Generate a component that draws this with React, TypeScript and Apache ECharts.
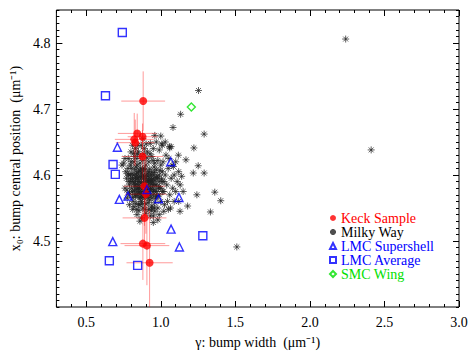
import React, { useEffect, useRef } from "react";
import * as echarts from "echarts";

// Keck Sample: [gamma, x0, xErr, yErr]
const keckSample: number[][] = [
  [0.882, 4.712, 0.147, 0.045],
  [0.842, 4.663, 0.13, 0.03],
  [0.822, 4.654, 0.13, 0.04],
  [0.829, 4.649, 0.13, 0.035],
  [0.878, 4.658, 0.1, 0.02],
  [0.877, 4.628, 0.14, 0.04],
  [0.89, 4.583, 0.14, 0.06],
  [0.9, 4.571, 0.14, 0.06],
  [0.891, 4.535, 0.147, 0.04],
  [0.88, 4.496, 0.15, 0.055],
  [0.907, 4.493, 0.15, 0.06],
  [0.925, 4.467, 0.155, 0.08],
];

const milkyWay: number[][] = [
  // outliers
  [2.24, 4.806], [2.411, 4.638], [1.51, 4.491], [1.253, 4.728], [1.133, 4.692],
  [1.082, 4.672], [1.291, 4.662], [1.222, 4.641], [1.06, 4.641], [1.251, 4.614],
  [1.291, 4.603], [1.218, 4.603], [1.169, 4.623], [1.242, 4.57], [1.362, 4.574],
  [1.402, 4.561], [1.18, 4.553], [1.333, 4.544], [1.129, 4.545], [0.951, 4.538],
  [1.051, 4.548],
  // ring
  [0.751, 4.618], [0.818, 4.633], [0.785, 4.6], [0.773, 4.577], [0.851, 4.555], [0.94, 4.55],
  [1.0, 4.659], [1.007, 4.647], [1.058, 4.643], [0.902, 4.647], [0.847, 4.645],
  [1.069, 4.643], [1.118, 4.63], [0.74, 4.615], [1.085, 4.613],
  // core
  [0.8, 4.59], [0.81, 4.575], [0.82, 4.6], [0.83, 4.585], [0.84, 4.57], [0.85, 4.605],
  [0.86, 4.59], [0.87, 4.578], [0.88, 4.6], [0.89, 4.565], [0.9, 4.595], [0.91, 4.58],
  [0.92, 4.605], [0.93, 4.57], [0.94, 4.59], [0.95, 4.6], [0.96, 4.575], [0.97, 4.585],
  [0.98, 4.595], [0.99, 4.57],
  [0.805, 4.61], [0.815, 4.56], [0.825, 4.583], [0.835, 4.612], [0.845, 4.595], [0.855, 4.565],
  [0.865, 4.61], [0.875, 4.57], [0.885, 4.588], [0.895, 4.608], [0.905, 4.572], [0.915, 4.59],
  [0.925, 4.562], [0.935, 4.6], [0.945, 4.578], [0.955, 4.612], [0.965, 4.565], [0.975, 4.598],
  [0.985, 4.58], [0.995, 4.607],
  [0.81, 4.595], [0.83, 4.568], [0.85, 4.58], [0.87, 4.596], [0.89, 4.582], [0.91, 4.566],
  [0.93, 4.588], [0.95, 4.57], [0.97, 4.608], [0.99, 4.59],
  [0.82, 4.62], [0.84, 4.625], [0.86, 4.618], [0.88, 4.622], [0.9, 4.615], [0.92, 4.62],
  [0.94, 4.628], [0.96, 4.618], [0.98, 4.622], [1.0, 4.615],
  [0.82, 4.552], [0.84, 4.548], [0.86, 4.555], [0.88, 4.55], [0.9, 4.556], [0.92, 4.548],
  [0.94, 4.553], [0.96, 4.558], [0.98, 4.55], [1.0, 4.56],
  [0.76, 4.58], [0.77, 4.595], [0.78, 4.61], [0.775, 4.565], [0.79, 4.585], [0.785, 4.625],
  [0.795, 4.6], [0.765, 4.605], [0.79, 4.555], [0.8, 4.635], [0.81, 4.645], [0.83, 4.64], [0.76, 4.625],
  [1.01, 4.59], [1.02, 4.575], [1.03, 4.6], [1.04, 4.585], [1.05, 4.61], [1.06, 4.57],
  [1.07, 4.595], [1.08, 4.58], [1.09, 4.6], [1.1, 4.575], [1.11, 4.59], [1.12, 4.605],
  [1.015, 4.62], [1.035, 4.63], [1.055, 4.625], [1.075, 4.615], [1.1, 4.62], [1.13, 4.585],
  [1.14, 4.598], [1.15, 4.575], [1.025, 4.555], [1.045, 4.56], [1.065, 4.55], [1.09, 4.56], [1.12, 4.56],
  [0.85, 4.635], [0.87, 4.645], [0.89, 4.64], [0.91, 4.635], [0.93, 4.648], [0.95, 4.64],
  [0.97, 4.65], [0.99, 4.638], [1.01, 4.645], [1.03, 4.65], [0.88, 4.655], [0.96, 4.66],
  [0.84, 4.54], [0.87, 4.535], [0.9, 4.542], [0.93, 4.538], [0.96, 4.545], [0.99, 4.54],
  [1.02, 4.545], [0.86, 4.53], [0.95, 4.528], [0.98, 4.532],
  [0.82, 4.588], [0.84, 4.603], [0.86, 4.572], [0.88, 4.575], [0.9, 4.582], [0.92, 4.592],
  [0.94, 4.565], [0.96, 4.592], [0.98, 4.568], [1.0, 4.58], [0.83, 4.596], [0.85, 4.59],
  [0.87, 4.56], [0.89, 4.598], [0.91, 4.602], [0.93, 4.578], [0.95, 4.585], [0.97, 4.575],
  [0.99, 4.6], [1.01, 4.605],
  // dense centre
  [0.79, 4.573], [0.797, 4.594], [0.803, 4.58], [0.808, 4.602], [0.812, 4.566], [0.818, 4.59],
  [0.822, 4.576], [0.827, 4.608], [0.832, 4.593], [0.836, 4.578], [0.841, 4.615], [0.843, 4.586],
  [0.848, 4.573], [0.852, 4.597], [0.857, 4.582], [0.861, 4.606], [0.864, 4.566], [0.868, 4.588],
  [0.872, 4.603], [0.876, 4.584], [0.879, 4.567], [0.883, 4.594], [0.887, 4.61], [0.892, 4.575],
  [0.896, 4.589], [0.899, 4.57], [0.903, 4.6], [0.908, 4.585], [0.912, 4.573], [0.917, 4.598],
  [0.921, 4.583], [0.926, 4.609], [0.93, 4.595], [0.934, 4.58], [0.939, 4.604], [0.943, 4.586],
  [0.948, 4.594], [0.953, 4.576], [0.958, 4.604], [0.963, 4.585], [0.968, 4.596], [0.973, 4.568],
  [0.802, 4.62], [0.823, 4.628], [0.844, 4.632], [0.866, 4.628], [0.886, 4.632], [0.907, 4.626],
  [0.928, 4.632], [0.949, 4.622], [0.812, 4.548], [0.833, 4.557], [0.853, 4.546], [0.874, 4.557],
  [0.894, 4.548], [0.915, 4.558], [0.936, 4.546], [0.957, 4.55], [0.785, 4.59], [0.778, 4.602],
  [0.788, 4.57], [0.796, 4.615], [0.99, 4.582], [1.005, 4.594], [1.012, 4.575], [1.022, 4.59],
  [0.838, 4.6], [0.858, 4.575], [0.878, 4.608], [0.898, 4.578], [0.918, 4.568], [0.938, 4.592],
  [0.826, 4.57], [0.846, 4.58], [0.866, 4.598], [0.886, 4.57], [0.906, 4.592], [0.926, 4.575],
];

const lmcSupershell: number[][] = [
  [0.709, 4.642], [1.067, 4.62], [0.907, 4.578], [0.78, 4.568], [0.722, 4.563],
  [0.985, 4.564], [1.122, 4.566], [1.069, 4.518], [0.678, 4.499], [1.125, 4.491],
];

const lmcAverage: number[][] = [
  [0.742, 4.816], [0.629, 4.72], [0.68, 4.616], [0.695, 4.601],
  [1.282, 4.508], [0.655, 4.47], [0.845, 4.463],
];

const smcWing: number[][] = [[1.205, 4.703]];

const xMajorTicks = [0.5, 1.0, 1.5, 2.0, 2.5, 3.0];
const yMajorTicks = [4.5, 4.6, 4.7, 4.8];

const X_MIN = 0.3, X_MAX = 3.0, Y_MIN = 4.4, Y_MAX = 4.85;

const xMinorTicks: number[] = [];
for (let i = 3; i <= 30; i++) xMinorTicks.push(i / 10);
const yMinorTicks: number[] = [];
for (let i = 440; i <= 485; i++) yMinorTicks.push(i / 100);

const FONT = "Liberation Serif";
const STAR = "path://M0,5L10,5M5,0L5,10M1.5,1.5L8.5,8.5M8.5,1.5L1.5,8.5";

export default function App() {
  const ref = useRef<HTMLDivElement>(null);
  useEffect(() => {
    if (!ref.current) return;
    const chart = echarts.init(ref.current, null, { renderer: "svg" });
    const xBase = (position: string) => ({
      type: "value", min: X_MIN, max: X_MAX, position,
      splitLine: { show: false }, axisLine: { show: false },
    });
    const yBase = (position: string) => ({
      type: "value", min: Y_MIN, max: Y_MAX, position,
      splitLine: { show: false }, axisLine: { show: false },
    });
    const tick = (vals: number[], len: number) => ({
      show: true, inside: true, length: len, customValues: vals,
      lineStyle: { color: "#000", width: 1 },
    });
    const option: any = {
      animation: false,
      backgroundColor: "#fff",
      grid: { left: 53, right: 15, top: 10, bottom: 47, show: true, borderColor: "#000", borderWidth: 1 },
      xAxis: [
        {
          ...xBase("bottom"),
          axisTick: tick(xMajorTicks, 6),
          axisLabel: {
            customValues: xMajorTicks, formatter: (v: number) => v.toFixed(1),
            fontFamily: FONT, fontSize: 14, color: "#000", margin: 8,
          },
          name: "γ: bump width  (μm⁻¹)", nameLocation: "middle", nameGap: 28,
          nameTextStyle: { fontFamily: FONT, fontSize: 14, color: "#000" },
        },
        { ...xBase("bottom"), axisTick: tick(xMinorTicks, 3), axisLabel: { show: false } },
        { ...xBase("top"), axisTick: tick(xMajorTicks, 6), axisLabel: { show: false } },
        { ...xBase("top"), axisTick: tick(xMinorTicks, 3), axisLabel: { show: false } },
      ],
      yAxis: [
        {
          ...yBase("left"),
          axisTick: tick(yMajorTicks, 6),
          axisLabel: {
            customValues: yMajorTicks, formatter: (v: number) => v.toFixed(1),
            fontFamily: FONT, fontSize: 14, color: "#000", margin: 6,
          },
          name: "x₀: bump central position  (μm⁻¹)", nameLocation: "middle", nameGap: 30,
          nameTextStyle: { fontFamily: FONT, fontSize: 14, color: "#000" },
        },
        { ...yBase("left"), axisTick: tick(yMinorTicks, 3), axisLabel: { show: false } },
        { ...yBase("right"), axisTick: tick(yMajorTicks, 6), axisLabel: { show: false } },
        { ...yBase("right"), axisTick: tick(yMinorTicks, 3), axisLabel: { show: false } },
      ],
      legend: {
        orient: "vertical", left: 324, top: 206, itemWidth: 6, itemHeight: 6, itemGap: 0,
        textStyle: { fontFamily: FONT, fontSize: 14, lineHeight: 13 },
        data: [
          { name: "Keck Sample", textStyle: { color: "#ff0000" } },
          { name: "Milky Way", textStyle: { color: "#000000" } },
          { name: "LMC Supershell", textStyle: { color: "#0000ff" } },
          { name: "LMC Average", textStyle: { color: "#0000ff" } },
          { name: "SMC Wing", textStyle: { color: "#00e000" } },
        ],
      },
      series: [
        {
          name: "Milky Way", type: "scatter", data: milkyWay, symbol: STAR, symbolSize: 7,
          itemStyle: { color: "transparent", borderColor: "#222", borderWidth: 0.9 }, z: 2,
        },
        {
          name: "errors", type: "custom", data: keckSample, clip: true, z: 3,
          encode: { x: 0, y: 1 },
          renderItem: (_p: any, api: any) => {
            const x = api.value(0), y = api.value(1), xe = api.value(2), ye = api.value(3);
            const l = api.coord([x - xe, y]), r = api.coord([x + xe, y]);
            const t = api.coord([x, y + ye]), b = api.coord([x, y - ye]);
            const st = { stroke: "rgba(255,0,0,0.4)", lineWidth: 1 };
            return {
              type: "group",
              children: [
                { type: "line", shape: { x1: l[0], y1: l[1], x2: r[0], y2: r[1] }, style: st },
                { type: "line", shape: { x1: t[0], y1: t[1], x2: b[0], y2: b[1] }, style: st },
              ],
            };
          },
        },
        {
          name: "Keck Sample", type: "scatter", data: keckSample.map((d) => [d[0], d[1]]),
          symbol: "circle", symbolSize: 8, itemStyle: { color: "#ff0000" }, z: 4,
        },
        {
          name: "LMC Supershell", type: "scatter", data: lmcSupershell, symbol: "triangle", symbolSize: 8,
          itemStyle: { color: "transparent", borderColor: "#0000ff", borderWidth: 1.4 }, z: 5,
        },
        {
          name: "LMC Average", type: "scatter", data: lmcAverage, symbol: "rect", symbolSize: 8,
          itemStyle: { color: "transparent", borderColor: "#0000ff", borderWidth: 1.4 }, z: 5,
        },
        {
          name: "SMC Wing", type: "scatter", data: smcWing, symbol: "diamond", symbolSize: 8,
          itemStyle: { color: "transparent", borderColor: "#00e000", borderWidth: 1.4 }, z: 5,
        },
      ],
    };
    chart.setOption(option);
    return () => chart.dispose();
  }, []);
  return (
    <div
      ref={ref}
      style={{ position: "fixed", left: 0, top: 0, width: 474, height: 354, background: "#fff" }}
    />
  );
}
